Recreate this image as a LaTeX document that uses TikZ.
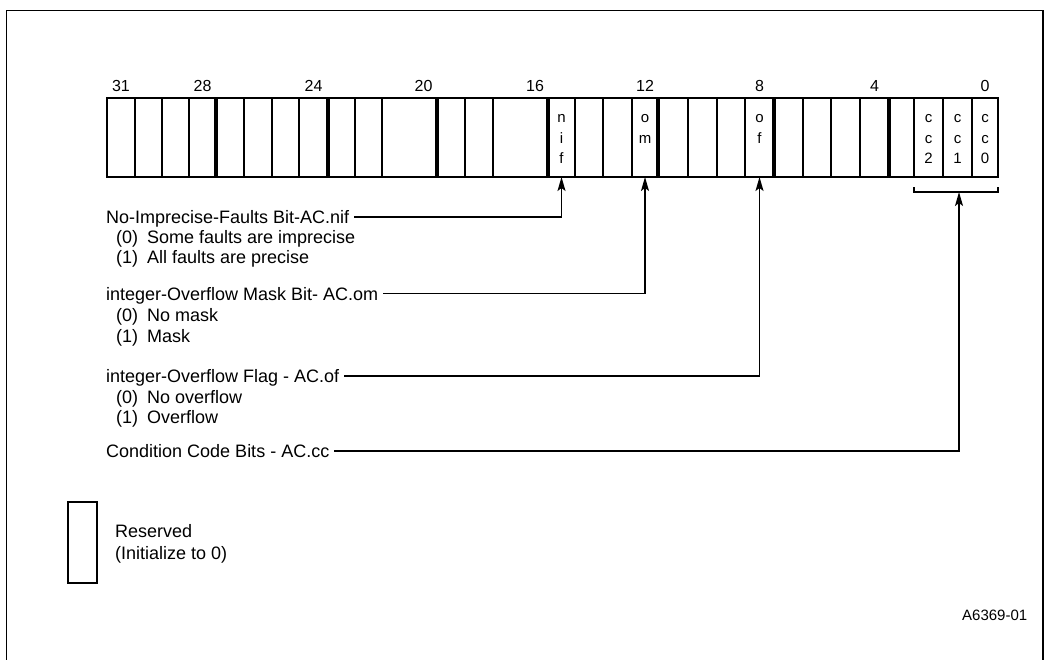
\documentclass[tikz,border=0pt]{standalone}
\usepackage{fontspec}
\setmainfont{Liberation Sans}
\usetikzlibrary{arrows.meta}
\begin{document}
\begin{tikzpicture}[x=1pt,y=-1pt,
  txt/.style={anchor=base west,inner sep=0pt,font=\fontsize{18}{21}\selectfont},
  num/.style={anchor=base,inner sep=0pt,font=\fontsize{16}{19}\selectfont},
  cell/.style={anchor=base,inner sep=0pt,font=\fontsize{15}{18}\selectfont},
  conn/.style={line width=1.4pt,-{Stealth[length=14pt,width=8pt,inset=3pt]}},
  thinl/.style={line width=1.5pt},
  thickl/.style={line width=4pt},
  ccl/.style={line width=2.2pt}]
\useasboundingbox (0,0) rectangle (1049,659);
\begin{scope}
\clip (0,0) rectangle (1049,659);
\draw[line width=1.6pt] (6.5,10.5) rectangle (1043,700);
\end{scope}
% register
\foreach \x in {135,162,189,244,272,299,355,382,465,493,575,603,632,688,717,745,803,831,860}
  \draw[thinl] (\x,98) -- (\x,177);
\foreach \x in {216,328,437,548,658,774,889}
  \draw[thickl] (\x,98) -- (\x,177);
\foreach \x in {914,943,972}
  \draw[ccl] (\x,98) -- (\x,177);
\draw[line width=2.2pt] (107,98) rectangle (998,177);
% bit numbers
\foreach \x/\n in {121/31,202.5/28,313.5/24,423.5/20,535/16,645/12,759.5/8,874.5/4,985/0}
  \node[num] (b\n) at (\x,91) {\n};
% cell letters
\foreach \x/\a/\b/\c/\nm in {561.5/n/i/f/nif,645/o/m//om,759.5/o/f//of,928.5/c/c/2/cctwo,957.5/c/c/1/ccone,985/c/c/0/cczero}{
  \node[cell] (\nm a) at (\x,122.5) {\a};
  \node[cell] (\nm b) at (\x,143) {\b};
  \node[cell] (\nm c) at (\x,163.5) {\c};
}
% targets
\coordinate (nifbot) at (561.5,177);
\coordinate (ombot) at (645,177);
\coordinate (ofbot) at (759.5,177);
\coordinate (brl) at (914,187);
\coordinate (brr) at (998,187);
\coordinate (ccbot) at (959,192);
\draw[line width=1.4pt] (brl) -- (914,192) -- (998,192) -- (brr);
% descriptions
\node[txt] (tnif) at (106,223.5) {No-Imprecise-Faults Bit-AC.nif};
\node[txt] (tnif0) at (116,243.5) {(0)\hspace{9pt}Some faults are imprecise};
\node[txt] (tnif1) at (116,263.5) {(1)\hspace{9pt}All faults are precise};
\node[txt] (tom) at (106,300) {integer-Overflow Mask Bit- AC.om};
\node[txt] (tom0) at (116,321.5) {(0)\hspace{9pt}No mask};
\node[txt] (tom1) at (116,342.5) {(1)\hspace{9pt}Mask};
\node[txt] (tof) at (106,382.5) {integer-Overflow Flag - AC.of};
\node[txt] (tof0) at (116,403) {(0)\hspace{9pt}No overflow};
\node[txt] (tof1) at (116,423.5) {(1)\hspace{9pt}Overflow};
\node[txt] (tcc) at (106,457.5) {Condition Code Bits - AC.cc};
\draw[conn] ([xshift=5pt,yshift=6.5pt]tnif.base east) -| (nifbot);
\draw[conn] ([xshift=5pt,yshift=6.5pt]tom.base east) -| (ombot);
\draw[conn] ([xshift=5pt,yshift=6.5pt]tof.base east) -| (ofbot);
\draw[conn] ([xshift=5pt,yshift=6.5pt]tcc.base east) -| (ccbot);
% legend
\node[draw,line width=2pt,minimum width=29pt,minimum height=81pt,inner sep=0pt] (legend) at (82.5,542.5) {};
\node[txt] (tres) at (115,537.5) {Reserved};
\node[txt] (tinit) at (115,559.5) {(Initialize to 0)};
\node[anchor=base west,inner sep=0pt,font=\fontsize{15}{18}\selectfont] (fig) at (962,620) {A6369-01};
\end{tikzpicture}
\end{document}
